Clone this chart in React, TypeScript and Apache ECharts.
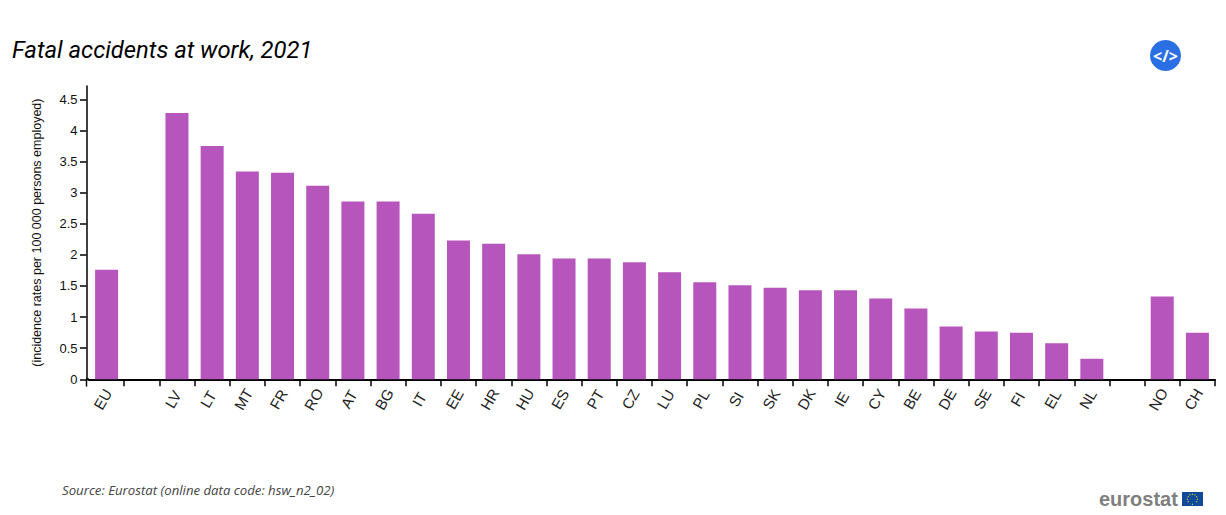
import React, { useEffect, useRef } from "react";
import * as echarts from "echarts";

const categories = ["EU", "", "LV", "LT", "MT", "FR", "RO", "AT", "BG", "IT", "EE", "HR", "HU", "ES", "PT", "CZ", "LU", "PL", "SI", "SK", "DK", "IE", "CY", "BE", "DE", "SE", "FI", "EL", "NL", "", "NO", "CH"];
const values = [1.76, null, 4.28, 3.75, 3.34, 3.32, 3.11, 2.86, 2.86, 2.66, 2.23, 2.18, 2.01, 1.94, 1.94, 1.88, 1.72, 1.56, 1.51, 1.47, 1.43, 1.43, 1.3, 1.14, 0.85, 0.77, 0.75, 0.58, 0.33, null, 1.33, 0.75];
const yTicks = [0, 0.5, 1, 1.5, 2, 2.5, 3, 3.5, 4, 4.5];
const titleText = "Fatal accidents at work, 2021";
const yAxisName = "(incidence rates per 100 000 persons employed)";
const sourceText = "Source: Eurostat (online data code: hsw_n2_02)";

const starAngles = [0, 30, 60, 90, 120, 150, 180, 210, 240, 270, 300, 330];

export default function App() {
  const ref = useRef<HTMLDivElement>(null);
  useEffect(() => {
    document.body.style.margin = "0";
    const chart = echarts.init(ref.current!, null, { renderer: "svg" });
    chart.setOption({
      animation: false,
      backgroundColor: "#ffffff",
      title: {
        text: titleText,
        left: 7,
        top: 33,
        textStyle: { fontFamily: "Roboto", fontStyle: "italic", fontWeight: "normal", fontSize: 23.8, color: "#000000" },
      },
      grid: { left: 89, top: 86, width: 1126, height: 293.3, containLabel: false },
      xAxis: {
        type: "category",
        data: categories,
        axisLine: { lineStyle: { color: "#000000", width: 2 } },
        axisTick: {
          show: true,
          alignWithLabel: false,
          length: 7,
          interval: (index: number) => index !== 0,
          lineStyle: { color: "#000000", width: 1.5 },
        },
        axisLabel: {
          interval: 0,
          rotate: 60,
          align: "center",
          verticalAlign: "middle",
          margin: 13,
          padding: [0, 16, 0, 0],
          fontFamily: "Liberation Sans",
          fontSize: 15,
          color: "#222222",
        },
      },
      yAxis: {
        type: "value",
        min: 0,
        max: 4.715,
        interval: 0.5,
        offset: 2.5,
        name: yAxisName,
        nameLocation: "middle",
        nameGap: 43,
        nameTextStyle: { fontFamily: "Liberation Sans", fontSize: 12.5, color: "#111111" },
        splitLine: { show: false },
        axisLine: { show: true, lineStyle: { color: "#000000", width: 1.5 } },
        axisTick: { show: true, length: 6.5, customValues: yTicks, lineStyle: { color: "#000000", width: 1.5 } },
        axisLabel: {
          customValues: yTicks,
          margin: 9,
          fontFamily: "Liberation Sans",
          fontSize: 13,
          color: "#111111",
          formatter: (v: number) => String(v),
        },
      },
      series: [
        {
          type: "bar",
          data: values,
          barWidth: 23,
          itemStyle: { color: "#b656bd" },
        },
      ],
      graphic: [
        { type: "line", shape: { x1: 86, y1: 379.3, x2: 89, y2: 379.3 }, style: { stroke: "#000000", lineWidth: 2 } },
        { type: "line", shape: { x1: 86.5, y1: 379.3, x2: 86.5, y2: 386.5 }, style: { stroke: "#000000", lineWidth: 1.5 } },
        { type: "text", x: 62, y: 483.5, style: { text: sourceText, fontFamily: "Open Sans", fontStyle: "italic", fontSize: 13.2, fill: "#444444" } },
        { type: "circle", shape: { cx: 1165.5, cy: 55.5, r: 15.5 }, style: { fill: "#2a6fe4" } },
        { type: "text", x: 1165.5, y: 55.5, style: { text: "</>", align: "center", verticalAlign: "middle", fontFamily: "Open Sans", fontWeight: "bold", fontSize: 16, fill: "#ffffff" } },
        { type: "text", x: 1099, y: 499, style: { text: "eurostat", verticalAlign: "middle", fontFamily: "Liberation Sans", fontWeight: "bold", fontSize: 20, fill: "#7f7f7f" } },
        { type: "rect", shape: { x: 1182, y: 492, width: 21, height: 14 }, style: { fill: "#0f4a9b" } },
        ...starAngles.map((a) => ({
          type: "circle",
          shape: {
            cx: 1192.4 + 5 * Math.cos((a * Math.PI) / 180),
            cy: 499.2 + 5 * Math.sin((a * Math.PI) / 180),
            r: 0.6,
          },
          style: { fill: "#f5d327" },
        })),
      ],
    });
    return () => chart.dispose();
  }, []);
  return <div ref={ref} style={{ width: 1226, height: 515 }} />;
}
